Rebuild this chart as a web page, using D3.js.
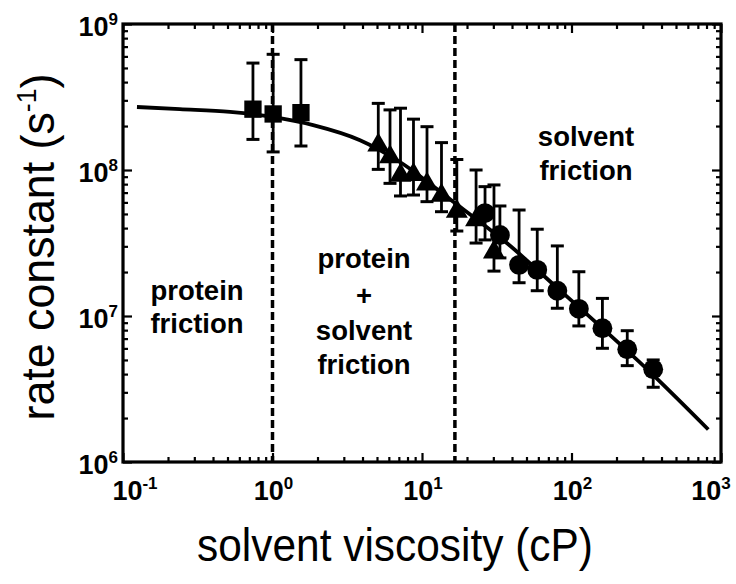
<!DOCTYPE html>
<html><head><meta charset="utf-8">
<script src="https://cdn.jsdelivr.net/npm/d3@7/dist/d3.min.js"></script>
<style>body{margin:0;background:#fff} svg{display:block}</style>
</head><body><svg id="c" width="736" height="584"></svg>
<script>
// ---- data ----
const squaresX  = [0.74, 1.01, 1.55];
const squaresY  = [2.61e8, 2.42e8, 2.47e8];
const squaresHi = [5.4e8, 6.2e8, 5.7e8];
const squaresLo = [1.62e8, 1.33e8, 1.46e8];

const trianglesX  = [5.10, 6.11, 7.18, 8.77, 10.8, 13.5, 17.1, 23.0, 30.3];
const trianglesY  = [1.48e8, 1.23e8, 9.2e7, 9.3e7, 8.0e7, 6.7e7, 5.2e7, 4.55e7, 2.74e7];
const trianglesHi = [2.86e8, 2.58e8, 2.65e8, 2.23e8, 1.98e8, 1.54e8, 1.18e8, 1.0e8, 7.9e7];
const trianglesLo = [1.01e8, 8.1e7, 6.64e7, 6.74e7, 6.07e7, 5.18e7, 3.82e7, 3.16e7, 2.03e7];

const circlesX  = [26.4, 33.2, 44.6, 59.0, 80.4, 112, 161, 236, 352];
const circlesY  = [5.07e7, 3.59e7, 2.24e7, 2.07e7, 1.49e7, 1.12e7, 8.24e6, 5.92e6, 4.32e6];
const circlesHi = [7.69e7, 5.67e7, 5.32e7, 3.93e7, 3.02e7, 2.01e7, 1.32e7, 7.93e6, 5.0e6];
const circlesLo = [3.32e7, 2.5e7, 1.69e7, 1.49e7, 1.13e7, 8.55e6, 6.01e6, 4.57e6, 3.25e6];

const fitX = [0.124, 0.24, 0.52, 1.0, 1.87, 3.85, 7.16, 15.4, 36.9, 79.6, 351, 822];
const fitY = [2.70e8, 2.61e8, 2.50e8, 2.31e8, 2.03e8, 1.60e8, 1.13e8, 6.3e7, 3.16e7, 1.57e7, 3.95e6, 1.67e6];

const regionBounds = [1.0, 16.6];

const xTickValues = [0.1, 1, 10, 100, 1000];
const xTickExp    = ["-1", "0", "1", "2", "3"];
const yTickValues = [1e6, 1e7, 1e8, 1e9];
const yTickExp    = ["6", "7", "8", "9"];

const xTitle = "solvent viscosity (cP)";
const yTitleMain = "rate constant (s";
const yTitleSup = "-1";

const regionLabels = [
  ["protein", "friction"],
  ["protein", "+", "solvent", "friction"],
  ["solvent", "friction"]
];

// ---- chart ----
const svg = d3.select("#c");
const FONT = "'Liberation Sans', Arial, Helvetica, sans-serif";
const L = 123, R = 721, T = 24, B = 462;
const x = d3.scaleLog().domain([0.1, 1000]).range([L, R]);
const y = d3.scaleLog().domain([1e6, 1e9]).range([B, T]);

// minor ticks
const xMinor = [], yMinor = [];
for (const d of [0.1, 1, 10, 100]) for (let k = 2; k <= 9; k++) xMinor.push(d * k);
for (const d of [1e6, 1e7, 1e8]) for (let k = 2; k <= 9; k++) yMinor.push(d * k);

function axisStyle(g) {
  g.select(".domain").remove();
  g.selectAll("line").attr("stroke", "#000").attr("stroke-width", 2.2);
  g.selectAll("text").remove();
}
const axes = [
  [d3.axisBottom(x), `translate(0,${B})`, xMinor, xTickValues],
  [d3.axisTop(x), `translate(0,${T})`, xMinor, xTickValues],
  [d3.axisLeft(y), `translate(${L},0)`, yMinor, yTickValues],
  [d3.axisRight(y), `translate(${R},0)`, yMinor, yTickValues]
];
for (const [ax, tr, minor, major] of axes) {
  svg.append("g").attr("transform", tr).call(ax.tickValues(minor).tickSize(-5).tickFormat("")).call(axisStyle);
  svg.append("g").attr("transform", tr).call(ax.tickValues(major).tickSize(-9).tickFormat("")).call(axisStyle);
}

// dashed region boundaries
svg.append("g").selectAll("line").data(regionBounds).join("line")
  .attr("x1", d => x(d)).attr("x2", d => x(d))
  .attr("y1", T).attr("y2", B)
  .attr("stroke", "#000").attr("stroke-width", 3.5).attr("stroke-dasharray", "8,4");

// frame
svg.append("rect").attr("x", L).attr("y", T).attr("width", R - L).attr("height", B - T)
  .attr("fill", "none").attr("stroke", "#000").attr("stroke-width", 3.2);

// error bars
function errorBars(xs, hi, lo) {
  const g = svg.append("g").attr("stroke", "#000").attr("stroke-width", 2.8);
  xs.forEach((v, i) => {
    const cx = x(v);
    g.append("line").attr("x1", cx).attr("x2", cx).attr("y1", y(hi[i])).attr("y2", y(lo[i]));
    g.append("line").attr("x1", cx - 6.5).attr("x2", cx + 6.5).attr("y1", y(hi[i])).attr("y2", y(hi[i])).attr("stroke-width", 3);
    g.append("line").attr("x1", cx - 6.5).attr("x2", cx + 6.5).attr("y1", y(lo[i])).attr("y2", y(lo[i])).attr("stroke-width", 3);
  });
}
errorBars(squaresX, squaresHi, squaresLo);
errorBars(trianglesX, trianglesHi, trianglesLo);
errorBars(circlesX, circlesHi, circlesLo);

// fit curve
const fit = fitX.map((v, i) => [v, fitY[i]]);
svg.append("path").datum(fit)
  .attr("d", d3.line().x(d => x(d[0])).y(d => y(d[1])).curve(d3.curveMonotoneX))
  .attr("fill", "none").attr("stroke", "#000").attr("stroke-width", 3.8);

// markers
function markers(xs, ys, type, size) {
  svg.append("g").selectAll("path").data(xs.map((v, i) => [v, ys[i]])).join("path")
    .attr("transform", d => `translate(${x(d[0])},${y(d[1])})`)
    .attr("d", d3.symbol().type(type).size(size))
    .attr("fill", "#000");
}
markers(squaresX, squaresY, d3.symbolSquare, 300);
markers(trianglesX, trianglesY, d3.symbolTriangle, 210);
markers(circlesX, circlesY, d3.symbolCircle, 310);

// tick labels
const xl = svg.append("g").attr("font-family", FONT).attr("font-weight", "bold");
xTickValues.forEach((v, i) => {
  const shift = i === 0 ? 12 : (i === xTickValues.length - 1 ? -10 : 1);
  const t = xl.append("text").attr("x", x(v) + shift).attr("y", 500).attr("text-anchor", "middle").attr("font-size", 27);
  t.append("tspan").text("10");
  t.append("tspan").attr("dy", -11).attr("font-size", 17).text(xTickExp[i]);
});
yTickValues.forEach((v, i) => {
  const t = xl.append("text").attr("x", 118).attr("y", y(v) + 12).attr("text-anchor", "end").attr("font-size", 27);
  t.append("tspan").text("10");
  t.append("tspan").attr("dy", -11).attr("font-size", 17).text(yTickExp[i]);
});

// region labels
const rl = svg.append("g").attr("font-family", FONT).attr("font-weight", "bold").attr("font-size", 27.5).attr("text-anchor", "middle");
const regionY = [[300, 333], [268, 305, 340, 374], [146, 180]];
const regionCX = [197, 364, 586];
regionLabels.forEach((lines, i) => {
  lines.forEach((s, j) => {
    rl.append("text").attr("x", regionCX[i]).attr("y", regionY[i][j]).text(s);
  });
});

// axis titles
const xt = svg.append("text").attr("font-family", FONT).attr("font-size", 47)
  .attr("text-anchor", "middle").attr("x", 0).attr("y", 0).text(xTitle);
let w = xt.node().getComputedTextLength();
xt.attr("transform", `translate(395,561) scale(${396 / w},1)`);

const yt = svg.append("text").attr("font-family", FONT).attr("font-size", 47)
  .attr("text-anchor", "middle").attr("x", 0).attr("y", 0);
yt.append("tspan").text(yTitleMain);
yt.append("tspan").attr("dy", -18).attr("font-size", 28).text(yTitleSup);
yt.append("tspan").attr("dy", 18).text(")");
w = yt.node().getBBox().width;
yt.attr("transform", `translate(54,247) rotate(-90) scale(${347 / w},1)`);
</script></body></html>
